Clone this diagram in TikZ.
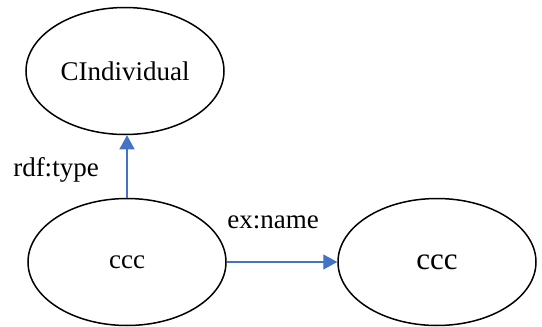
\documentclass[tikz,border=0pt]{standalone}
\usepackage{fontspec}
\setmainfont{Liberation Serif}
\usetikzlibrary{arrows.meta,shapes.geometric}
\definecolor{linkblue}{HTML}{4472C4}
\tikzset{
  res/.style={ellipse, draw=black, line width=1.5pt, minimum width=198pt, minimum height=127pt, inner sep=0pt,
    font=\fontsize{27}{30}\selectfont},
  link/.style={draw=linkblue, line width=1.3pt, -{Triangle[length=14pt,width=15pt]}},
  lbl/.style={font=\fontsize{27}{30}\selectfont, inner sep=0pt}
}
\begin{document}
\begin{tikzpicture}[x=1pt,y=-1pt]
  \useasboundingbox (0,0) rectangle (542,327);
  \node[res] (cls) at (125,71) {CIndividual};
  \node[res] (subj) at (127,262) {ccc};
  \node[res, font=\fontsize{31}{34}\selectfont] (obj) at (437,262) {ccc};
  \draw[link] (subj.north) -- (subj.north |- cls.south);
  \draw[link] (subj.east) -- (obj.west);
  \node[lbl] (typelbl) at (56,170) {rdf:type};
  \node[lbl] (namelbl) at (273,222) {ex:name};
\end{tikzpicture}
\end{document}
